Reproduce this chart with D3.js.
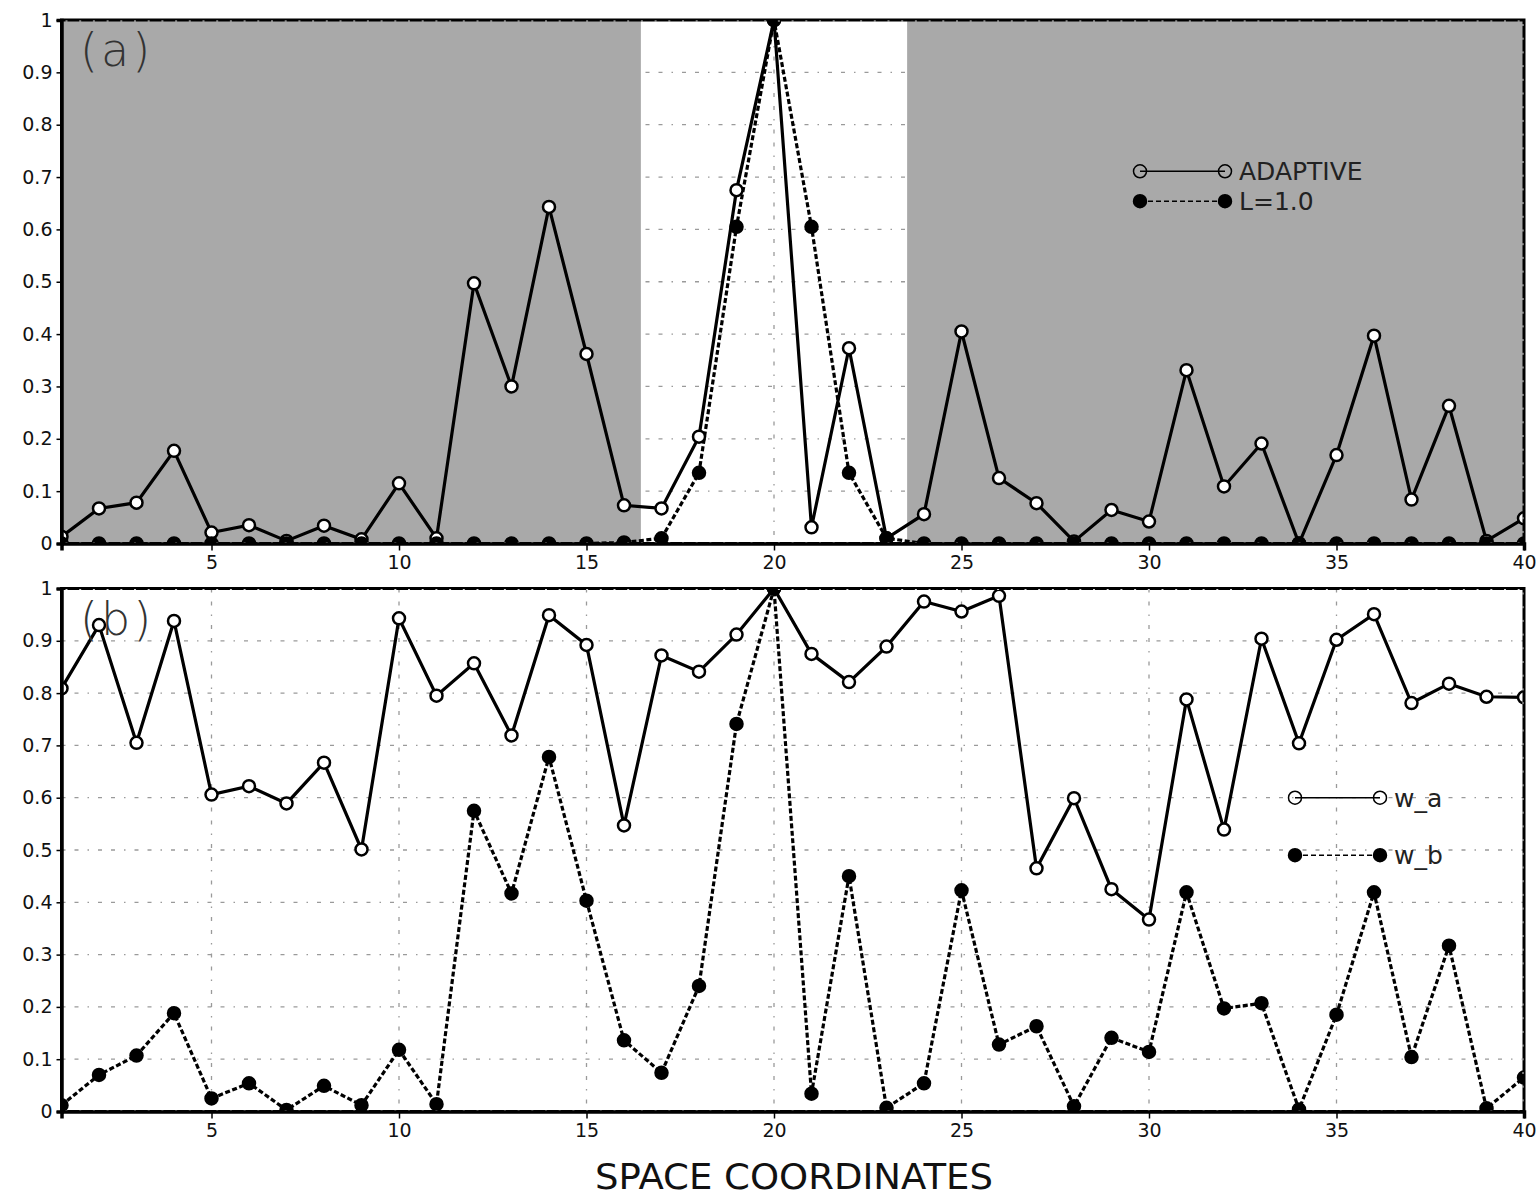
<!DOCTYPE html>
<html>
<head>
<meta charset="utf-8">
<script src="https://cdn.jsdelivr.net/npm/d3@7"></script>
<style>
  html, body { margin: 0; padding: 0; background: #fff; }
  svg { display: block; font-family: "DejaVu Sans", sans-serif; }
</style>
</head>
<body>
<svg id="chart" width="1540" height="1202"></svg>
<script>
// Grid points along the space axis
const coords = d3.range(1, 41);

// Panel (a): adaptive localization vs fixed length scale L = 1.0
const adaptive = [0.013, 0.067, 0.078, 0.177, 0.021, 0.035, 0.005, 0.034, 0.008, 0.115,
                  0.010, 0.497, 0.300, 0.643, 0.362, 0.073, 0.067, 0.204, 0.675, 1.000,
                  0.031, 0.373, 0.010, 0.056, 0.405, 0.125, 0.077, 0.004, 0.064, 0.042,
                  0.331, 0.109, 0.191, 0.000, 0.169, 0.397, 0.084, 0.263, 0.005, 0.048];
const fixedL = [0, 0, 0, 0, 0, 0, 0, 0, 0, 0,
                0, 0, 0, 0, 0, 0.002, 0.010, 0.135, 0.605, 1.000,
                0.605, 0.135, 0.010, 0, 0, 0, 0, 0, 0, 0,
                0, 0, 0, 0, 0, 0, 0, 0, 0, 0];

// Panel (b): weights w_a and w_b
const wA = [0.809, 0.930, 0.705, 0.938, 0.606, 0.622, 0.589, 0.667, 0.501, 0.943,
            0.795, 0.857, 0.719, 0.949, 0.892, 0.547, 0.872, 0.841, 0.912, 1.000,
            0.875, 0.821, 0.889, 0.975, 0.956, 0.986, 0.465, 0.599, 0.425, 0.367,
            0.788, 0.539, 0.904, 0.704, 0.902, 0.951, 0.781, 0.818, 0.793, 0.792];
const wB = [0.012, 0.070, 0.107, 0.188, 0.025, 0.054, 0.003, 0.049, 0.012, 0.118,
            0.014, 0.575, 0.417, 0.678, 0.403, 0.136, 0.074, 0.240, 0.741, 1.000,
            0.034, 0.450, 0.007, 0.054, 0.423, 0.128, 0.163, 0.010, 0.141, 0.114,
            0.419, 0.197, 0.207, 0.004, 0.185, 0.419, 0.104, 0.317, 0.006, 0.065];

// Axis ticks
const xTicks = [5, 10, 15, 20, 25, 30, 35, 40];
const xGrid = [5, 10, 15, 20, 25, 30, 35];
const yTicks = [0, 0.1, 0.2, 0.3, 0.4, 0.5, 0.6, 0.7, 0.8, 0.9, 1];
const yTickLabels = ["0", "0.1", "0.2", "0.3", "0.4", "0.5", "0.6", "0.7", "0.8", "0.9", "1"];
const yGrid = [0.1, 0.2, 0.3, 0.4, 0.5, 0.6, 0.7, 0.8, 0.9];

// Unshaded window of panel (a), in space coordinates
const window_a = [16.45, 23.55];

const svg = d3.select("#chart");
const x = d3.scaleLinear().domain([1, 40]).range([61.5, 1524]);
let clipCount = 0;

function panel(opts) {
  const y = d3.scaleLinear().domain([0, 1]).range([opts.y0, opts.y1]);
  const g = svg.append("g");
  const left = x(1), right = x(40), top = y(1), bottom = y(0);

  const clipId = "plotclip" + (clipCount++);
  svg.append("clipPath").attr("id", clipId).append("rect")
    .attr("x", left).attr("y", top).attr("width", right - left).attr("height", bottom - top);

  // gridlines
  const gridStyle = s => s.attr("stroke", "#9a9a9a").attr("stroke-width", 1.3)
                          .attr("stroke-dasharray", "4,9,4,9,1.5,9");
  g.append("g").selectAll("line").data(yGrid).join("line")
    .attr("x1", left).attr("x2", right).attr("y1", d => y(d)).attr("y2", d => y(d))
    .call(gridStyle);
  g.append("g").selectAll("line").data(xGrid).join("line")
    .attr("x1", d => x(d)).attr("x2", d => x(d)).attr("y1", top).attr("y2", bottom)
    .call(gridStyle);

  // shaded regions outside the window
  if (opts.shade) {
    const [a, b] = opts.shade;
    g.append("rect").attr("x", left).attr("y", top)
      .attr("width", x(a) - left).attr("height", bottom - top).attr("fill", "#a9a9a9");
    g.append("rect").attr("x", x(b)).attr("y", top)
      .attr("width", right - x(b)).attr("height", bottom - top).attr("fill", "#a9a9a9");
  }

  // series (clipped to the plotting area)
  const plot = g.append("g").attr("clip-path", `url(#${clipId})`);
  const line = d3.line().x((d, i) => x(coords[i])).y(d => y(d));
  opts.series.forEach(s => {
    plot.append("path").datum(s.values).attr("d", line).attr("fill", "none")
      .attr("stroke", "#000").attr("stroke-width", 3.2)
      .attr("stroke-dasharray", s.dashed ? "5,2.5" : null);
  });
  opts.series.slice().reverse().forEach(s => {
    plot.append("g").selectAll("circle").data(s.values).join("circle")
      .attr("cx", (d, i) => x(coords[i])).attr("cy", d => y(d)).attr("r", 6)
      .attr("fill", s.filled ? "#000" : "#fff")
      .attr("stroke", "#000").attr("stroke-width", 2.5);
  });

  // frame
  g.append("rect").attr("x", left).attr("y", top).attr("width", right - left)
    .attr("height", bottom - top).attr("fill", "none")
    .attr("stroke", "#000").attr("stroke-width", 3);
  [top + 1, bottom - 1].forEach(yy => {
    g.append("line").attr("x1", left + 4).attr("x2", right - 2).attr("y1", yy).attr("y2", yy)
      .attr("stroke", "#d8d8d8").attr("stroke-width", 1).attr("stroke-dasharray", "2,11.7");
  });
  g.append("line").attr("x1", right - 1).attr("x2", right - 1).attr("y1", top + 4).attr("y2", bottom - 2)
    .attr("stroke", "#d8d8d8").attr("stroke-width", 1).attr("stroke-dasharray", "2,11.7");

  // axes
  const ay = g.append("g").attr("transform", `translate(${left},0)`)
    .call(d3.axisLeft(y).tickValues(yTicks).tickSize(5).tickPadding(4)
      .tickFormat((d, i) => yTickLabels[i]));
  const ax = g.append("g").attr("transform", `translate(0,${bottom})`)
    .call(d3.axisBottom(x).tickValues(xTicks).tickSize(7).tickPadding(5)
      .tickFormat(d3.format("d")));
  [ax, ay].forEach(a => {
    a.select(".domain").attr("stroke", "#000").attr("stroke-width", 3.5);
    a.selectAll(".tick line").attr("stroke", "#000").attr("stroke-width", 1.5);
    a.selectAll(".tick text").attr("font-size", 19).attr("fill", "#111")
      .attr("font-family", "DejaVu Sans, sans-serif");
  });

  // panel tag
  g.append("text").attr("x", 80).attr("y", top + 46)
    .attr("font-size", 46).attr("font-weight", 200).attr("fill", "#333")
    .attr("letter-spacing", 3).text(opts.tag);

  // legend
  opts.legend.forEach(l => {
    const ly = y(l.level);
    g.append("line").attr("x1", l.x0).attr("x2", l.x1).attr("y1", ly).attr("y2", ly)
      .attr("stroke", "#000").attr("stroke-width", 1.5)
      .attr("stroke-dasharray", l.filled ? "5,3" : null);
    [l.x0, l.x1].forEach(cx => {
      g.append("circle").attr("cx", cx).attr("cy", ly).attr("r", 6.5)
        .attr("fill", l.filled ? "#000" : "none").attr("stroke", "#000").attr("stroke-width", 1.5);
    });
    g.append("text").attr("x", l.x1 + 14).attr("y", ly).attr("dy", "0.36em")
      .attr("font-size", 25).attr("fill", "#222").text(l.label);
  });
}

panel({
  y0: 543.5, y1: 20, tag: "(a)", shade: window_a,
  series: [
    { values: fixedL, dashed: true, filled: true },
    { values: adaptive, dashed: false, filled: false }
  ],
  legend: [
    { label: "ADAPTIVE", level: 0.711, x0: 1140, x1: 1225, filled: false },
    { label: "L=1.0", level: 0.654, x0: 1140, x1: 1225, filled: true }
  ]
});

panel({
  y0: 1111.5, y1: 588.5, tag: "(b)",
  series: [
    { values: wB, dashed: true, filled: true },
    { values: wA, dashed: false, filled: false }
  ],
  legend: [
    { label: "w_a", level: 0.6, x0: 1295, x1: 1380, filled: false },
    { label: "w_b", level: 0.49, x0: 1295, x1: 1380, filled: true }
  ]
});

// shared x-axis title
svg.append("text").attr("x", 794).attr("y", 1189).attr("text-anchor", "middle")
  .attr("font-size", 36).attr("fill", "#111")
  .attr("textLength", 398).attr("lengthAdjust", "spacingAndGlyphs")
  .text("SPACE COORDINATES");
</script>
</body>
</html>
